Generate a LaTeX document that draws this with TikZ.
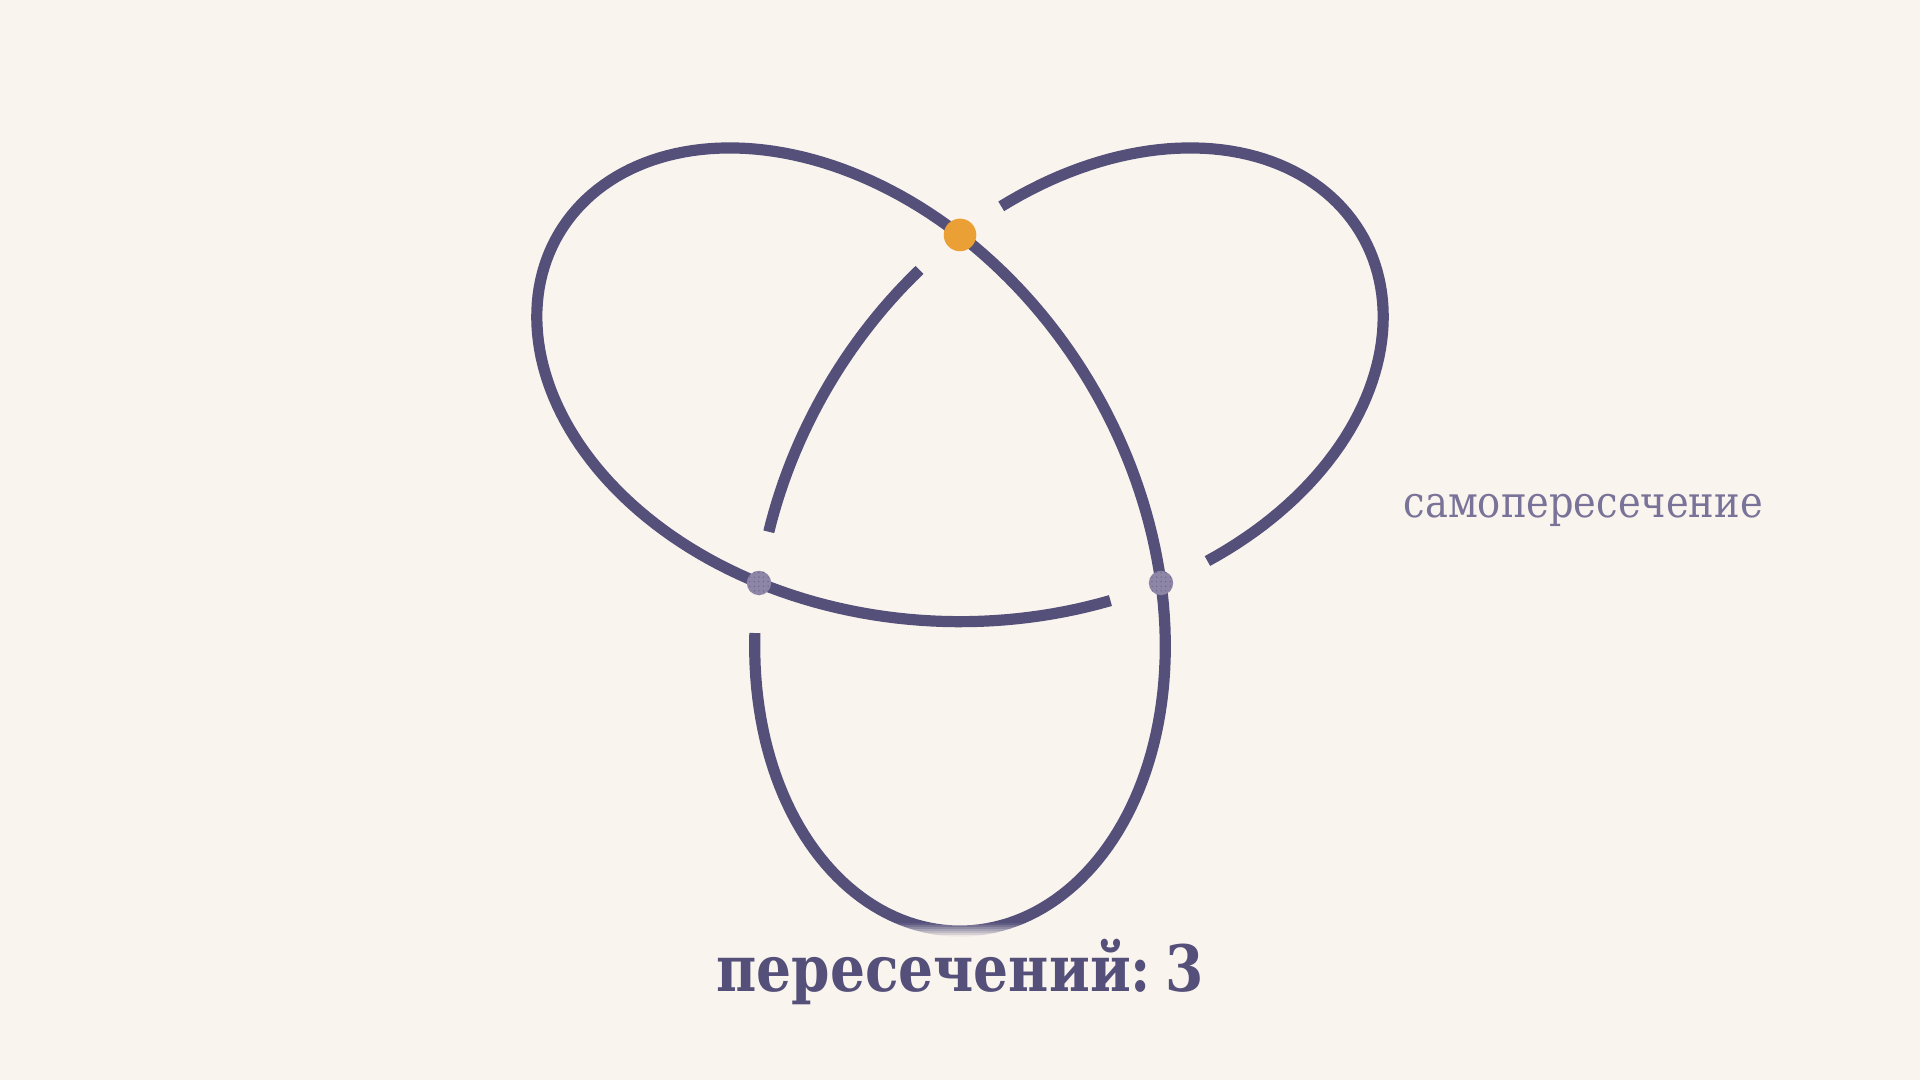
\documentclass[tikz,border=0pt]{standalone}
\usepackage{fontspec}
\setmainfont{DejaVu Serif}
\newfontfamily\labelfont[FakeStretch=0.88]{DejaVu Serif}
\newfontfamily\titlefont[FakeStretch=0.86]{DejaVu Serif}
\usetikzlibrary{patterns.meta}
\definecolor{bg}{HTML}{FAF4EE}
\definecolor{knot}{HTML}{55507A}
\definecolor{orangedot}{HTML}{EBA035}
\definecolor{graydot}{HTML}{8E86A6}
\definecolor{labelc}{HTML}{7A7399}
\begin{document}
\begin{tikzpicture}[x=0.01cm,y=-0.01cm,
  knotline/.style={draw=knot, line width=0.112cm, line cap=butt, line join=round},
  overdot/.style={fill=orangedot},
  underdot/.style={fill=graydot},
  stipple/.style={pattern={Dots[distance=1.3pt, radius=0.22pt]}, pattern color=knot!55!graydot},
  titletext/.style={font=\titlefont\bfseries\fontsize{18.2}{20}\selectfont, text=knot, inner sep=0pt},
  labeltext/.style={font=\labelfont\fontsize{12.4}{14}\selectfont, text=labelc, inner sep=0pt}]
\fill[bg] (0,0) rectangle (1920,1080);
\useasboundingbox (0,0) rectangle (1920,1080);
\def\R{154.7}
\def\cx{960}
\def\cy{467}
% knot strands (trefoil), broken at under-crossings
\draw[knotline] plot[domain=19.6:100.5, samples=90] ({\cx+\R*(sin(\x)+2*sin(2*\x))},{\cy-\R*(cos(\x)-2*cos(2*\x))});
\draw[knotline] plot[domain=108.6:131.5, samples=30] ({\cx+\R*(sin(\x)+2*sin(2*\x))},{\cy-\R*(cos(\x)-2*cos(2*\x))});
\draw[knotline] plot[domain=139.5:371.4, samples=260] ({\cx+\R*(sin(\x)+2*sin(2*\x))},{\cy-\R*(cos(\x)-2*cos(2*\x))});
% fade at bottom of lower lobe
\foreach \i in {0,...,8} {
  \pgfmathsetmacro{\op}{min(1,(\i+0.5)/7)}
  \fill[bg, opacity=\op] (880,{923+2*\i}) rectangle (1045,{925+2*\i});
}
% crossings
\coordinate (ctop) at (960,234.95);
\coordinate (cleft) at (759.0,583.0);
\coordinate (cright) at (1161.0,583.0);
\fill[overdot] (ctop) circle (16.3);
\fill[underdot] (cleft) circle (12.2);
\fill[stipple] (cleft) circle (12.2);
\fill[underdot] (cright) circle (12.2);
\fill[stipple] (cright) circle (12.2);
% texts
\node[labeltext, anchor=base west] (lab) at (1403,517.7) {самопересечение};
\node[titletext, anchor=base] (title) at (960,991.7) {пересечений:\kern0.22em3};
\end{tikzpicture}
\end{document}
